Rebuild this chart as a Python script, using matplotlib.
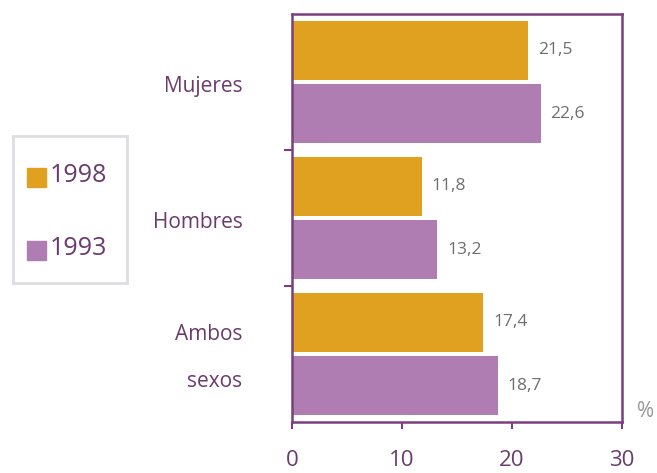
import numpy as np
import matplotlib.pyplot as plt
from matplotlib.patches import Rectangle

plt.rcParams['font.family'] = ['Open Sans', 'DejaVu Sans']

categories = ["Mujeres", "Hombres", "Ambos\nsexos"]
series_names = ["1998", "1993"]
values_1998 = [21.5, 11.8, 17.4]
values_1993 = [22.6, 13.2, 18.7]
value_labels_1998 = ["21,5", "11,8", "17,4"]
value_labels_1993 = ["22,6", "13,2", "18,7"]
xticks = [0, 10, 20, 30]

orange = "#E0A020"
purple = "#B07DB2"
frame = "#7B3F7E"
text_purple = "#6B3A6E"
gray = "#6E6E6E"

fig = plt.figure(figsize=(6.57, 4.73), dpi=100)
ax = fig.add_axes([0.4444, 0.1078, 0.5023, 0.8626])

pos = np.arange(len(categories))
h = 0.44
off = 0.232
ax.barh(pos - off, values_1998, height=h, color=orange, label=series_names[0])
ax.barh(pos + off, values_1993, height=h, color=purple, label=series_names[1])

for i in range(len(categories)):
    ax.text(values_1998[i] + 0.9, pos[i] - off, value_labels_1998[i],
            va='center', ha='left', fontsize=12.5, color=gray)
    ax.text(values_1993[i] + 0.9, pos[i] + off, value_labels_1993[i],
            va='center', ha='left', fontsize=12.5, color=gray)

ax.set_xlim(0, 30)
ax.set_ylim(2.5, -0.5)
ax.set_xticks(xticks)
ax.set_xticklabels([str(t) for t in xticks], fontsize=16, color=text_purple)
ax.tick_params(axis='x', direction='out', length=5, width=1.5, color=frame, pad=15)
ax.set_yticks([0.5, 1.5])
ax.set_yticklabels([])
ax.tick_params(axis='y', direction='out', length=6, width=1.5, color=frame)
for s in ax.spines.values():
    s.set_color(frame)
    s.set_linewidth(1.8)

# category labels to the left of the axes
for i, c in enumerate(categories):
    ax.text(-4.5, pos[i] + 0.03, c, ha='right', va='center', fontsize=15,
            color=text_purple, linespacing=2.6)

ax.text(1.07, 0.025, "%", transform=ax.transAxes, fontsize=15, color="#999999",
        ha='center', va='center')

# legend box
fig.add_artist(Rectangle((13 / 657, 1 - 283 / 473), 114 / 657, 147 / 473,
                         transform=fig.transFigure, fill=False,
                         edgecolor="#DDDDE2", linewidth=2))
for y, name, col in [(177, series_names[0], orange), (250, series_names[1], purple)]:
    fig.add_artist(Rectangle((27 / 657, 1 - (y + 10) / 473), 19 / 657, 19 / 473,
                             transform=fig.transFigure, color=col))
    fig.text(50 / 657, 1 - (y - 2) / 473, name, fontsize=18, color=text_purple,
             ha='left', va='center')

fig.savefig("out.png", dpi=100)
